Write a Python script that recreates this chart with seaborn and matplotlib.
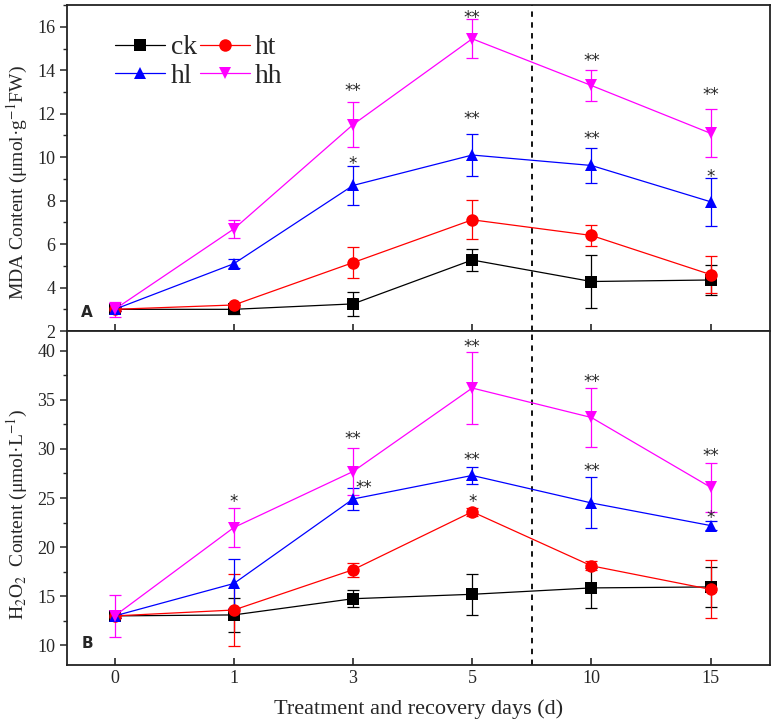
import matplotlib
matplotlib.use('Agg')
import matplotlib.pyplot as plt
import matplotlib.transforms as mtransforms
import seaborn as sns
import pandas as pd
import numpy as np
from matplotlib.ticker import MultipleLocator

sns.set_theme(style='ticks')
plt.rcParams['font.family'] = ['Liberation Serif', 'DejaVu Serif']
plt.rcParams['mathtext.fontset'] = 'stix'

# ── Data ──────────────────────────────────────────────
days = ['0', '1', '3', '5', '10', '15']
groups = ['ck', 'ht', 'hl', 'hh']
colors = {'ck': 'black', 'ht': 'red', 'hl': 'blue', 'hh': 'magenta'}
markers = {'ck': 's', 'ht': 'o', 'hl': '^', 'hh': 'v'}

mda_mean = {
    'ck': [3.0, 3.0, 3.25, 5.27, 4.28, 4.35],
    'ht': [3.0, 3.2, 5.15, 7.12, 6.4, 4.6],
    'hl': [3.0, 5.1, 8.7, 10.1, 9.62, 7.95],
    'hh': [3.0, 6.7, 11.5, 15.45, 13.3, 11.1],
}
mda_err = {
    'ck': [0.1, 0.2, 0.55, 0.5, 1.2, 0.7],
    'ht': [0.1, 0.1, 0.7, 0.9, 0.5, 0.85],
    'hl': [0.1, 0.2, 0.9, 0.95, 0.8, 1.1],
    'hh': [0.35, 0.4, 1.05, 0.9, 0.7, 1.1],
}
h2o2_mean = {
    'ck': [13.0, 13.1, 14.75, 15.2, 15.85, 15.95],
    'ht': [13.0, 13.6, 17.7, 23.6, 18.1, 15.7],
    'hl': [13.0, 16.3, 24.9, 27.3, 24.5, 22.2],
    'hh': [13.0, 22.0, 27.7, 36.2, 33.2, 26.1],
}
h2o2_err = {
    'ck': [0.2, 1.7, 0.85, 2.1, 2.0, 2.0],
    'ht': [0.2, 3.7, 0.7, 0.4, 0.45, 2.95],
    'hl': [0.2, 2.5, 1.1, 0.9, 2.6, 0.5],
    'hh': [2.1, 2.0, 2.4, 3.7, 3.0, 2.5],
}
# significance marks: (day index, height in data units, text)
mda_sig = [(2, 13.25, '**'), (2, 9.85, '*'), (3, 16.6, '**'), (3, 11.95, '**'),
           (4, 14.6, '**'), (4, 11.0, '**'), (5, 13.06, '**'), (5, 9.28, '*')]
h2o2_sig = [(1, 25.0, '*'), (2, 31.4, '**'), (2.09, 26.4, '**'), (3, 40.8, '**'),
            (3, 29.3, '**'), (3, 25.0, '*'), (4, 37.2, '**'), (4, 28.2, '**'),
            (5, 29.7, '**'), (5, 23.4, '*')]


def long_df(mean, err):
    rows = []
    for g in groups:
        for i, d in enumerate(days):
            rows.append({'pos': i, 'day': d, 'group': g,
                         'value': mean[g][i], 'err': err[g][i]})
    return pd.DataFrame(rows)


fig = plt.figure(figsize=(7.74, 7.26), dpi=100)
ax1 = fig.add_axes([0.0866, 0.544, 0.9084, 0.449])
ax2 = fig.add_axes([0.0866, 0.084, 0.9084, 0.460])


def draw(ax, df, sig):
    for g in groups:
        sub = df[df['group'] == g]
        ax.errorbar(sub['pos'], sub['value'], yerr=sub['err'], fmt='none',
                    ecolor=colors[g], elinewidth=0.9, capsize=4, capthick=0.9,
                    zorder=2)
    sns.lineplot(data=df, x='pos', y='value', hue='group', style='group',
                 palette=colors, markers=markers, dashes=False, ax=ax,
                 linewidth=0.9, markersize=9, markeredgewidth=0,
                 hue_order=groups, style_order=groups, zorder=3)
    # asterisk glyph sits high in its box, nudge it down a few pixels
    star_tr = mtransforms.offset_copy(ax.transData, fig=fig, x=0, y=-4,
                                      units='dots')
    for x, y, t in sig:
        ax.text(x, y, t, ha='center', va='center', fontsize=12,
                family='DejaVu Sans', transform=star_tr)
    ax.axvline(3.5, color='black', linestyle=(0, (3, 3)), linewidth=1.3)
    ax.set_xlim(-0.4, 5.5)
    for s in ax.spines.values():
        s.set_linewidth(1.3)
        s.set_color('#222222')
    ax.tick_params(axis='x', direction='in', length=5, width=1.2)
    ax.tick_params(axis='y', which='major', direction='out', length=5, width=1.1,
                   labelsize=13)
    ax.tick_params(axis='y', which='minor', direction='out', length=3, width=1.0)
    ax.set_xticks(range(len(days)))


df1 = long_df(mda_mean, mda_err)
df2 = long_df(h2o2_mean, h2o2_err)

draw(ax1, df1, mda_sig)
ax1.set_ylim(2, 17)
ax1.yaxis.set_major_locator(MultipleLocator(2))
ax1.yaxis.set_minor_locator(MultipleLocator(1))
ax1.set_xticklabels([])
ax1.set_xlabel('')
ax1.set_ylabel('MDA Content (μmol·g$^{-1}$FW)', fontsize=14)
ax1.yaxis.set_label_coords(-0.052, 0.455)
ax1.text(-0.28, 2.85, 'A', fontsize=11, fontweight='bold', family='DejaVu Sans',
         va='center')
handles, labels = ax1.get_legend_handles_labels()
order = [labels.index(n) for n in ['ck', 'hl', 'ht', 'hh']]
ax1.legend([handles[k] for k in order], [labels[k] for k in order], ncol=2,
           frameon=False, fontsize=20, loc='upper left',
           bbox_to_anchor=(0.033, 0.985), handlelength=1.8, handletextpad=0.2,
           columnspacing=0.1, labelspacing=0.1)

draw(ax2, df2, h2o2_sig)
ax2.get_legend().remove()
ax2.set_ylim(8, 42)
ax2.yaxis.set_major_locator(MultipleLocator(5))
ax2.yaxis.set_minor_locator(MultipleLocator(2.5))
ax2.set_xticklabels(days, fontsize=13)
ax2.set_xlabel('Treatment and recovery days (d)', fontsize=16, labelpad=9)
ax2.set_ylabel('H$_2$O$_2$  Content (μmol·L$^{-1}$)', fontsize=14)
ax2.yaxis.set_label_coords(-0.052, 0.45)
ax2.text(-0.28, 10.2, 'B', fontsize=11, fontweight='bold', family='DejaVu Sans',
         va='center')

fig.savefig('out.png', dpi=100)
